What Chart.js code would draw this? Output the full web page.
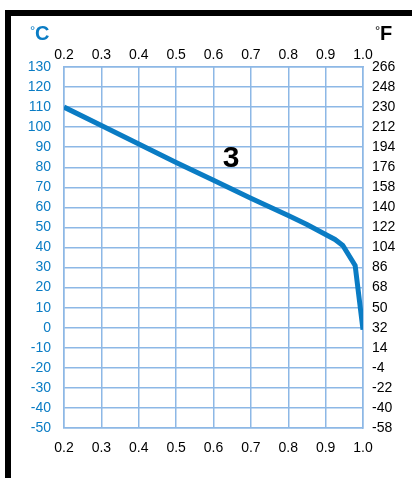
<!DOCTYPE html>
<html lang="en">
<head>
<meta charset="UTF-8">
<title>Temperature curve 3</title>
<script src="https://cdn.jsdelivr.net/npm/chart.js"></script>
<style>
    body { margin: 0; background: #fff; }
    .wrap { position: relative; width: 412px; height: 478px; }
    /* black frame on the left and top */
    .frame {
        position: absolute; left: 5px; top: 10px; right: 0; bottom: 0;
        border-left: 6px solid #000; border-top: 6px solid #000;
    }
    canvas { position: absolute; left: 0; top: 0; }
</style>
</head>
<body>
<div class="wrap">
    <div class="frame"></div>
    <canvas id="chart" width="412" height="478"></canvas>
</div>
<script>
// x = fraction, y = temperature in °C
var fractions = [0.2, 0.3, 0.4, 0.5, 0.6, 0.7, 0.8, 0.85, 0.9, 0.925, 0.946, 0.979, 1.0];
var celsius   = [110, 100.8, 91.6, 82.4, 73.5, 64.6, 56, 51.5, 46.5, 44, 41, 31, -1];
var xTicks = [0.2, 0.3, 0.4, 0.5, 0.6, 0.7, 0.8, 0.9, 1.0];
var cTicks = [-50, -40, -30, -20, -10, 0, 10, 20, 30, 40, 50, 60, 70, 80, 90, 100, 110, 120, 130];
var fTicks = [-58, -40, -22, -4, 14, 32, 50, 68, 86, 104, 122, 140, 158, 176, 194, 212, 230, 248, 266];
var curveLabel = '3';

var gridColor = '#8db8e6';
var blue = '#0a7cc4';
var font = { family: 'Liberation Sans, Arial, sans-serif', size: 14 };

var points = fractions.map(function (x, i) { return { x: x, y: celsius[i] }; });

function fixTicks(list) {
    return function (scale) {
        scale.ticks = list.map(function (v) { return { value: v }; });
    };
}

// unit labels: small raised degree sign, bold letter
function unit(ctx, letter, x, color) {
    ctx.fillStyle = color;
    ctx.font = '13px Liberation Sans, Arial, sans-serif';
    ctx.fillText('°', x, 35);
    ctx.font = 'bold 20px Liberation Sans, Arial, sans-serif';
    ctx.fillText(letter, x + 5, 40);
}

var textPlugin = {
    id: 'texts',
    afterDraw: function (chart) {
        var ctx = chart.ctx;
        ctx.save();
        ctx.textBaseline = 'alphabetic';
        ctx.textAlign = 'left';
        unit(ctx, 'C', 30, blue);
        unit(ctx, 'F', 375, '#000');
        // curve number
        ctx.fillStyle = '#000';
        ctx.font = 'bold 30px Liberation Sans, Arial, sans-serif';
        ctx.textAlign = 'center';
        ctx.textBaseline = 'middle';
        var x = chart.scales.x.getPixelForValue(0.647);
        var y = chart.scales.y.getPixelForValue(84.5);
        ctx.fillText(curveLabel, x, y);
        ctx.restore();
    }
};

new Chart(document.getElementById('chart'), {
    type: 'line',
    data: {
        datasets: [{
            data: points,
            borderColor: blue,
            borderWidth: 5,
            borderCapStyle: 'butt',
            pointRadius: 0,
            tension: 0,
            xAxisID: 'x',
            yAxisID: 'y'
        }]
    },
    options: {
        responsive: false,
        animation: false,
        plugins: { legend: { display: false }, tooltip: { enabled: false } },
        layout: { padding: 0 },
        scales: {
            x: {
                type: 'linear', position: 'bottom', min: 0.2, max: 1.0,
                afterBuildTicks: fixTicks(xTicks),
                afterFit: function (s) { s.height = 50; },
                grid: { color: gridColor, lineWidth: 1.5, drawTicks: false },
                border: { color: gridColor, width: 1.5 },
                ticks: { color: '#000', font: font, padding: 12, maxRotation: 0,
                         callback: function (v) { return v.toFixed(1); } }
            },
            x2: {
                type: 'linear', position: 'top', min: 0.2, max: 1.0,
                afterBuildTicks: fixTicks(xTicks),
                afterFit: function (s) { s.height = 67; },
                grid: { drawOnChartArea: false, drawTicks: false },
                border: { color: gridColor, width: 1.5 },
                ticks: { color: '#000', font: font, padding: 3, maxRotation: 0,
                         callback: function (v) { return v.toFixed(1); } }
            },
            y: {
                type: 'linear', position: 'left', min: -50, max: 130,
                afterBuildTicks: fixTicks(cTicks),
                afterFit: function (s) { s.width = 64; },
                grid: { color: gridColor, lineWidth: 1.5, drawTicks: false },
                border: { color: gridColor, width: 1.5 },
                ticks: { color: blue, font: font, padding: 13 }
            },
            y2: {
                type: 'linear', position: 'right', min: -58, max: 266,
                afterBuildTicks: fixTicks(fTicks),
                afterFit: function (s) { s.width = 49; },
                grid: { drawOnChartArea: false, drawTicks: false },
                border: { color: gridColor, width: 1.5 },
                ticks: { color: '#000', font: font, padding: 9 }
            }
        }
    },
    plugins: [textPlugin]
});
</script>
</body>
</html>
